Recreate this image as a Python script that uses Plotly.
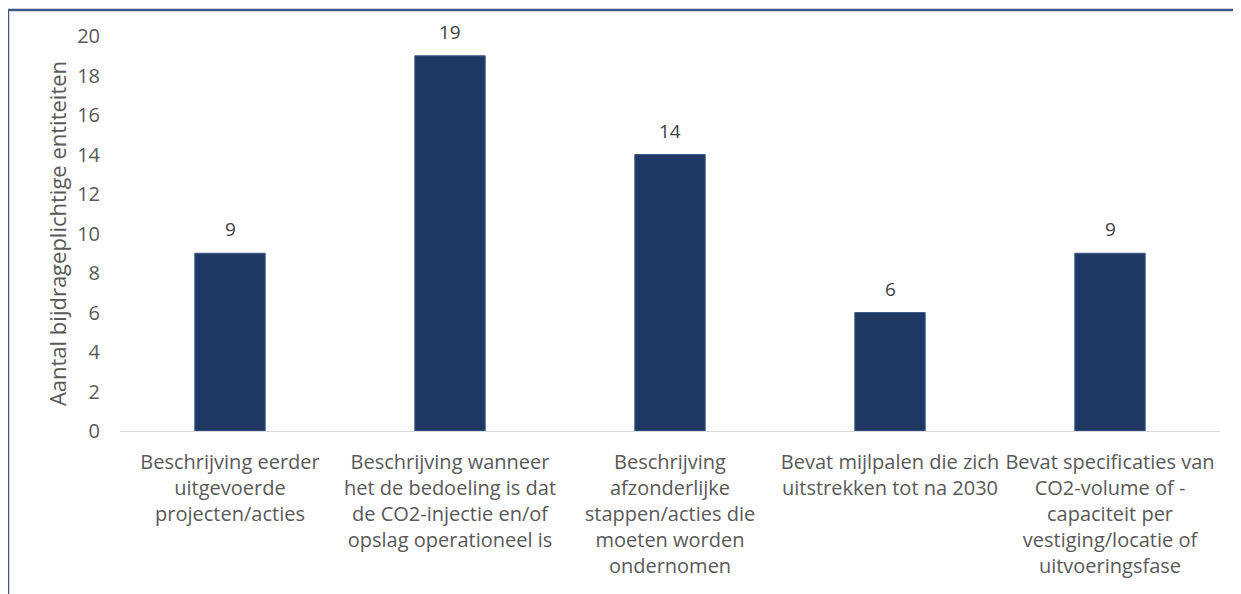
import plotly.graph_objects as go

categories = [
    "Beschrijving eerder<br>uitgevoerde<br>projecten/acties",
    "Beschrijving wanneer<br>het de bedoeling is dat<br>de CO2-injectie en/of<br>opslag operationeel is",
    "Beschrijving<br>afzonderlijke<br>stappen/acties die<br>moeten worden<br>ondernomen",
    "Bevat mijlpalen die zich<br>uitstrekken tot na 2030",
    "Bevat specificaties van<br>CO2-volume of -<br>capaciteit per<br>vestiging/locatie of<br>uitvoeringsfase",
]
values = [9, 19, 14, 6, 9]
y_ticks = [0, 2, 4, 6, 8, 10, 12, 14, 16, 18, 20]
y_title = "Aantal bijdrageplichtige entiteiten"

OFF = 8  # default body margin of the html page
W, H = 1241 - OFF, 594 - OFF
L, R, T, B = 120 - OFF, 1220 - OFF, 36 - OFF, 431 - OFF

FONT = "Open Sans"
GREY = "#595959"

fig = go.Figure()
fig.add_trace(go.Bar(
    x=categories, y=values,
    marker=dict(color="#1f3864", line=dict(color="#3b5a8c", width=1)),
    width=0.32,
    hoverinfo="x+y",
))

for c, v in zip(categories, values):
    fig.add_annotation(x=c, y=v, text=str(v), showarrow=False,
                       yanchor="bottom", yshift=9,
                       font=dict(family=FONT, size=19, color="#404040"))

def px(x):
    return (x - OFF - L) / (R - L)

def py(y):
    return (B - (y - OFF)) / (B - T)

# frame lines (screenshot border)
for col, wd in (("#d0d4dc", 4), ("#3f5688", 2)):
    fig.add_shape(type="line", xref="paper", yref="paper",
                  x0=px(8), x1=px(8), y0=py(10), y1=py(600),
                  line=dict(color=col, width=wd))
    fig.add_shape(type="line", xref="paper", yref="paper",
                  x0=px(8), x1=px(1245), y0=py(10), y1=py(10),
                  line=dict(color=col, width=wd))

fig.update_layout(
    width=W, height=H,
    margin=dict(l=L, r=W - R, t=T, b=H - B, pad=0),
    paper_bgcolor="white", plot_bgcolor="white",
    showlegend=False,
    font=dict(family=FONT, color=GREY, size=20),
    xaxis=dict(
        showline=True, linecolor="#d9d9d9", linewidth=1,
        showgrid=False, ticks="", tickangle=0, ticklabelstandoff=13,
        tickfont=dict(family=FONT, size=20, color=GREY),
    ),
    yaxis=dict(
        range=[0, 20], tickvals=y_ticks, showgrid=False, zeroline=False,
        showline=False, ticks="", ticklen=0, ticklabelstandoff=19,
        tickfont=dict(family=FONT, size=20, color=GREY),
        title=dict(text=y_title, standoff=4,
                   font=dict(family=FONT, size=22, color=GREY)),
    ),
)

fig.write_html("out.html")
